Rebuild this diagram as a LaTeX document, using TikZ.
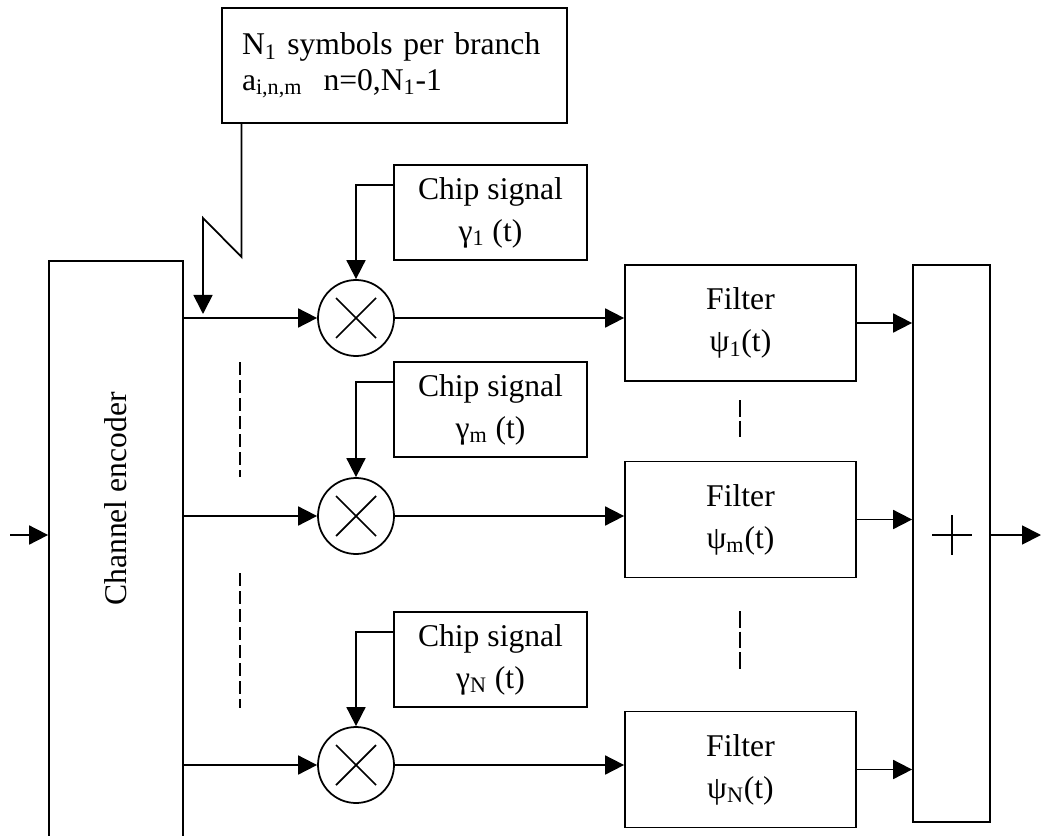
\documentclass[tikz,border=0pt]{standalone}
\usepackage{fontspec}
\setmainfont{Liberation Serif}
\usetikzlibrary{arrows.meta}

\begin{document}
\begin{tikzpicture}[line width=1pt, font=\fontsize{18}{24}\selectfont,
  block/.style={draw, inner sep=0pt, align=center},
  mixer/.style={draw, circle, minimum size=1.52cm, inner sep=0pt},
  link/.style={-{Triangle[length=0.38cm,width=0.38cm]}}]

\useasboundingbox (0,0) rectangle (20.82,-16.72);

%%%%% Symbols box and channel encoder
\node [block, minimum height=2.3cm, inner xsep=0.4cm, text width=6.1cm, align=left, font=\fontsize{18}{20}\selectfont] (info) at (7.89,-1.31) {N\textsubscript{1} symbols per branch\\ a\textsubscript{i,n,m}\ \ n=0,N\textsubscript{1}-1};

\node [block, minimum width=2.68cm, minimum height=11.9cm] (enc) at (2.32,-11.17) {};
\node [rotate=90] (enclabel) at (2.32,-9.98) {Channel encoder};

\coordinate (in) at (0.2,-10.7);
\draw [link] (in) -- (in -| enc.west);

\coordinate (zz1) at (4.83,-5.14); \coordinate (zz2) at (4.06,-4.36); \coordinate (zz3) at (4.06,-6.28);
\draw [link] (info.south -| zz1) -- (zz1) -- (zz2) -- (zz3);

%%%%% Adder
\node [block, minimum width=1.54cm, minimum height=11.14cm] (add) at (19.03,-10.87) {};
\coordinate (sum) at (19.04,-10.7);
\draw ([xshift=-0.4cm]sum) -- ([xshift=0.4cm]sum) ([yshift=0.4cm]sum) -- ([yshift=-0.4cm]sum);
\coordinate (out) at (20.82,-10.7);
\draw [link] (add.east |- sum) -- (out);

%%%%% Branches
\foreach \i/\y/\c/\f/\s in {1/-6.36/-4.25/-6.46/1, 2/-10.32/-8.19/-10.39/m, 3/-15.3/-13.19/-15.39/N}{
  \node [mixer] (mul\i) at (7.12,\y) {};
  \draw ([shift={(-0.4,0.4)}]mul\i.center) -- ([shift={(0.4,-0.4)}]mul\i.center);
  \draw ([shift={(-0.4,-0.4)}]mul\i.center) -- ([shift={(0.4,0.4)}]mul\i.center);

  \node [block, minimum width=3.86cm, minimum height=1.9cm] (chip\i) at (9.81,\c) {Chip signal\\ γ\textsubscript{\s} (t)};
  \node [block, minimum width=4.62cm, minimum height=2.32cm] (filt\i) at (14.81,\f) {Filter\\ ψ\textsubscript{\s}(t)};

  \draw [link] (enc.east |- mul\i) -- (mul\i);
  \draw [link] ([yshift=-0.42cm]chip\i.north west) -| (mul\i.north);
  \draw [link] (mul\i) -- (mul\i -| filt\i.west);
  \draw [link] (filt\i) -- (filt\i -| add.west);
}

%%%%% Dots between branches
\draw [dash pattern=on 0.26cm off 0.1cm] (4.8,-7.24)--(4.8,-9.54); \draw [dash pattern=on 0.26cm off 0.1cm] (4.8,-11.46)--(4.8,-14.16);
\draw [dash pattern=on 0.33cm off 0.08cm] (14.8,-8.0)--(14.8,-8.74); \draw [dash pattern=on 0.33cm off 0.08cm] (14.8,-12.22)--(14.8,-13.38);

\end{tikzpicture}
\end{document}
